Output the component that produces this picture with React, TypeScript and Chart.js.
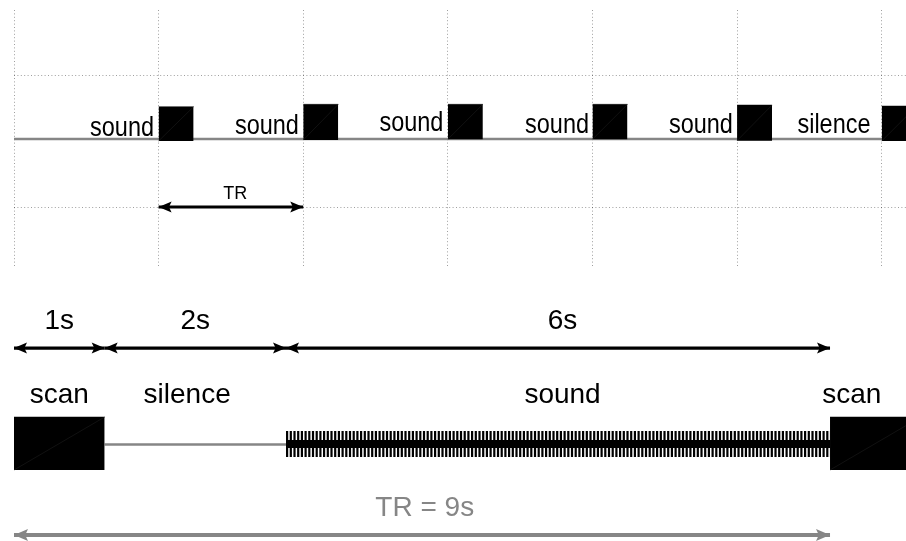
import React, { useEffect, useRef } from "react";
import { Chart, registerables } from "chart.js";

Chart.register(...registerables);

// ---------------- TOP PANEL (x in TR units) ----------------
const topXRange = [0, 6.168];
const topYRange = [-1.924, 1.985];
const topGridX = [0, 1, 2, 3, 4, 5, 6];
const topGridY = [-1, 1];
const baselineLevel = 0.03;
const baselineSpan = [0, 6.4];
const scanStartsTR = [1, 2, 3, 4, 5, 6];
const scanWidthTR = 0.242;
const scanBottomsTR = [0, 0.015, 0.026, 0.026, 0.005, 0];
const scanTopsTR = [0.52, 0.556, 0.556, 0.556, 0.545, 0.53];
const topLabels = ["sound", "sound", "sound", "sound", "sound", "silence"];
const topLabelX = [0.747, 1.749, 2.748, 3.755, 4.75, 5.67];
const topLabelY = [0.076, 0.106, 0.15, 0.116, 0.116, 0.116];
const trArrowSpan = [1, 2];
const trArrowLevel = -1;
const trLabel = "TR";
const trLabelX = 1.53;
const trLabelY = -0.88;

// ---------------- BOTTOM PANEL (x in seconds) ----------------
const botXRange = [0, 9.838];
const botYRange = [-3.679, 6.547];
const segBounds = [0, 1, 3, 9];
const segLabels = ["1s", "2s", "6s"];
const segLabelX = [0.5, 2.0, 6.05];
const segArrowLevel = 3.6;
const segLabelY = 4.31;
const phaseLabels = ["scan", "silence", "sound", "scan"];
const phaseLabelX = [0.5, 1.91, 6.05, 9.24];
const phaseLabelY = 1.53;
const scanStartsSec = [0, 9];
const scanWidthSec = 1;
const scanBoxBottom = -1;
const scanBoxTop = 1;
const silenceSpan = [1, 3];
const silenceLevel = -0.04;
const soundSpan = [3, 9];
const soundLevel = -0.02;
const totalSpan = [0, 9];
const totalLevel = -3.45;
const totalLabel = "TR = 9s";
const totalLabelX = 4.53;
const totalLabelY = -2.74;

const FONT = '"Liberation Sans", Arial, Helvetica, sans-serif';
const GRAY = "#868686";

type Lbl = { text: string; x: number; y: number; size: number; color: string; sx: number };

function makeTextPlugin(id: string, labels: Lbl[]) {
  return {
    id,
    afterDatasetsDraw(chart: any) {
      const { ctx, scales } = chart;
      const xs = scales.x;
      const ys = scales.y;
      for (const l of labels) {
        ctx.save();
        ctx.translate(xs.getPixelForValue(l.x), ys.getPixelForValue(l.y));
        ctx.scale(l.sx, 1);
        ctx.font = `${l.size}px ${FONT}`;
        ctx.fillStyle = l.color;
        ctx.textAlign = "center";
        ctx.textBaseline = "alphabetic";
        ctx.fillText(l.text, 0, 0);
        ctx.restore();
      }
    },
  };
}

function drawHead(ctx: CanvasRenderingContext2D, fx: number, fy: number, tx: number, ty: number, len: number, half: number, color: string) {
  const ang = Math.atan2(ty - fy, tx - fx);
  ctx.save();
  ctx.translate(tx, ty);
  ctx.rotate(ang);
  ctx.beginPath();
  ctx.moveTo(0, 0);
  ctx.lineTo(-len, -half);
  ctx.lineTo(-len * 0.8, 0);
  ctx.lineTo(-len, half);
  ctx.closePath();
  ctx.fillStyle = color;
  ctx.fill();
  ctx.restore();
}

const arrowPlugin = {
  id: "arrowHeads",
  afterDatasetsDraw(chart: any) {
    const ctx = chart.ctx;
    chart.data.datasets.forEach((ds: any, i: number) => {
      if (!ds.arrowHeads) return;
      const pts = chart.getDatasetMeta(i).data;
      if (pts.length < 2) return;
      const a = pts[0];
      const b = pts[pts.length - 1];
      const { len, half } = ds.arrowHeads;
      drawHead(ctx, b.x, b.y, a.x, a.y, len, half, ds.borderColor);
      drawHead(ctx, a.x, a.y, b.x, b.y, len, half, ds.borderColor);
    });
  },
};

function seg(x0: number, x1: number, y0: number, y1: number = y0) {
  return [
    { x: x0, y: y0 },
    { x: x1, y: y1 },
  ];
}

function buildTop() {
  const datasets: any[] = [];
  datasets.push({
    data: seg(baselineSpan[0], baselineSpan[1], baselineLevel),
    borderColor: GRAY,
    borderWidth: 2.6,
    order: 5,
  });
  scanStartsTR.forEach((s, i) => {
    datasets.push({
      data: seg(s, s + scanWidthTR, scanTopsTR[i]),
      borderColor: "#000",
      backgroundColor: "#000",
      borderWidth: 0.5,
      fill: { value: scanBottomsTR[i] },
      order: 3,
    });
    datasets.push({
      data: seg(s, s + scanWidthTR, scanBottomsTR[i], scanTopsTR[i]),
      borderColor: "#1c1c1c",
      borderWidth: 0.6,
      order: 1,
    });
  });
  datasets.push({
    data: seg(trArrowSpan[0], trArrowSpan[1], trArrowLevel),
    borderColor: "#000",
    borderWidth: 3,
    arrowHeads: { len: 13, half: 5.5 },
    order: 2,
  });
  const labels: Lbl[] = topLabels.map((t, i) => ({
    text: t,
    x: topLabelX[i],
    y: topLabelY[i],
    size: 27,
    color: "#000",
    sx: 0.87,
  }));
  labels.push({ text: trLabel, x: trLabelX, y: trLabelY, size: 18, color: "#000", sx: 1 });

  const gridCommon = {
    color: "rgba(0,0,0,0.38)",
    lineWidth: 1,
    drawTicks: false,
  };
  return {
    type: "line",
    data: { datasets },
    options: {
      animation: false,
      responsive: false,
      events: [],
      parsing: false,
      normalized: true,
      layout: { padding: { left: 14, top: 10, right: 0, bottom: 2 } },
      elements: { point: { radius: 0 }, line: { tension: 0, borderCapStyle: "butt" } },
      plugins: { legend: { display: false }, tooltip: { enabled: false } },
      scales: {
        x: {
          type: "linear",
          min: topXRange[0],
          max: topXRange[1],
          ticks: { display: false },
          grid: gridCommon,
          border: { display: false, dash: [1, 2.4] },
          afterBuildTicks: (s: any) => {
            s.ticks = topGridX.map((v) => ({ value: v }));
          },
          afterFit: (s: any) => {
            s.height = 0;
          },
        },
        y: {
          type: "linear",
          min: topYRange[0],
          max: topYRange[1],
          ticks: { display: false },
          grid: gridCommon,
          border: { display: false, dash: [1, 2.4] },
          afterBuildTicks: (s: any) => {
            s.ticks = topGridY.map((v) => ({ value: v }));
          },
          afterFit: (s: any) => {
            s.width = 0;
          },
        },
      },
    },
    plugins: [arrowPlugin, makeTextPlugin("topText", labels)],
  };
}

function buildBottom() {
  const datasets: any[] = [];
  scanStartsSec.forEach((s) => {
    datasets.push({
      data: seg(s, s + scanWidthSec, scanBoxTop),
      borderColor: "#000",
      backgroundColor: "#000",
      borderWidth: 0.5,
      fill: { value: scanBoxBottom },
      order: 3,
    });
    datasets.push({
      data: seg(s, s + scanWidthSec, scanBoxBottom, scanBoxTop),
      borderColor: "#1c1c1c",
      borderWidth: 0.6,
      order: 1,
    });
  });
  datasets.push({
    data: seg(silenceSpan[0], silenceSpan[1], silenceLevel),
    borderColor: GRAY,
    borderWidth: 2.6,
    order: 5,
  });
  // sound: solid core + toothed envelope
  datasets.push({
    data: seg(soundSpan[0], soundSpan[1], soundLevel),
    borderColor: "#000",
    borderWidth: 8,
    order: 4,
  });
  datasets.push({
    data: seg(soundSpan[0], soundSpan[1], soundLevel),
    borderColor: "#000",
    borderWidth: 26,
    borderDash: [2.2, 1.5],
    order: 4,
  });
  for (let i = 0; i < segBounds.length - 1; i++) {
    datasets.push({
      data: seg(segBounds[i], segBounds[i + 1], segArrowLevel),
      borderColor: "#000",
      borderWidth: 3.2,
      arrowHeads: { len: 13, half: 5.5 },
      order: 2,
    });
  }
  datasets.push({
    data: seg(totalSpan[0], totalSpan[1], totalLevel),
    borderColor: GRAY,
    borderWidth: 4,
    arrowHeads: { len: 14, half: 6 },
    order: 2,
  });

  const labels: Lbl[] = [];
  segLabels.forEach((t, i) =>
    labels.push({ text: t, x: segLabelX[i], y: segLabelY, size: 28, color: "#000", sx: 1 })
  );
  phaseLabels.forEach((t, i) =>
    labels.push({ text: t, x: phaseLabelX[i], y: phaseLabelY, size: 28, color: "#000", sx: 1 })
  );
  labels.push({ text: totalLabel, x: totalLabelX, y: totalLabelY, size: 28, color: GRAY, sx: 1 });

  return {
    type: "line",
    data: { datasets },
    options: {
      animation: false,
      responsive: false,
      events: [],
      parsing: false,
      normalized: true,
      layout: { padding: { left: 14, top: 0, right: 0, bottom: 0 } },
      elements: { point: { radius: 0 }, line: { tension: 0, borderCapStyle: "butt" } },
      plugins: { legend: { display: false }, tooltip: { enabled: false } },
      scales: {
        x: { type: "linear", display: false, min: botXRange[0], max: botXRange[1] },
        y: { type: "linear", display: false, min: botYRange[0], max: botYRange[1] },
      },
    },
    plugins: [arrowPlugin, makeTextPlugin("botText", labels)],
  };
}

export default function App() {
  const topRef = useRef<HTMLCanvasElement>(null);
  const botRef = useRef<HTMLCanvasElement>(null);

  useEffect(() => {
    const c1 = new Chart(topRef.current as HTMLCanvasElement, buildTop() as any);
    const c2 = new Chart(botRef.current as HTMLCanvasElement, buildBottom() as any);
    return () => {
      c1.destroy();
      c2.destroy();
    };
  }, []);

  return (
    <div style={{ position: "absolute", left: 0, top: 0, width: 906, height: 541, background: "#fff" }}>
      <canvas
        ref={topRef}
        width={906}
        height={270}
        style={{ position: "absolute", left: 0, top: 0, width: 906, height: 270 }}
      />
      <canvas
        ref={botRef}
        width={906}
        height={271}
        style={{ position: "absolute", left: 0, top: 270, width: 906, height: 271 }}
      />
    </div>
  );
}
